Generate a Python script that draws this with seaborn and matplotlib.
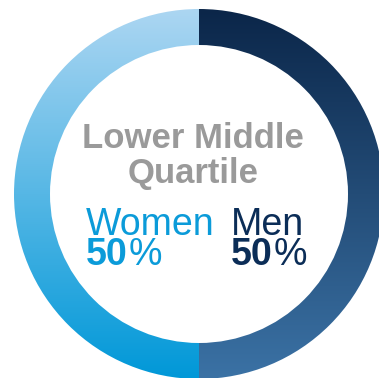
import numpy as np
import matplotlib
matplotlib.use("Agg")
import matplotlib.pyplot as plt
import seaborn as sns
from matplotlib.colors import LinearSegmentedColormap

# data
groups = ["Women", "Men"]
shares = [50, 50]
title_lines = ["Lower Middle", "Quartile"]
grad_top = ["#acd6f2", "#0b2649"]
grad_bottom = ["#0098d8", "#3b72a5"]
text_colors = ["#0b9bd9", "#0b2d57"]

sns.set_theme(style="white")
plt.rcParams["font.family"] = ["Liberation Sans", "DejaVu Sans"]

W, H = 379, 378
fig = plt.figure(figsize=(W / 100, H / 100), dpi=100)
ax = fig.add_axes([0, 0, 1, 1])
ax.set_axis_off()

cx, cy = 199, H - 194
r_out, ring = 185, 36

wedges, _ = ax.pie(shares, startangle=90, counterclock=True, radius=r_out,
                   center=(cx, cy), wedgeprops=dict(width=ring, linewidth=0),
                   colors=["none", "none"])

# vertical gradient inside each wedge
grad = np.linspace(0, 1, 256).reshape(-1, 1)
for w, top, bot in zip(wedges, grad_top, grad_bottom):
    cmap = LinearSegmentedColormap.from_list("g", [bot, top])
    im = ax.imshow(grad, cmap=cmap, origin="lower", aspect="auto",
                   extent=[cx - r_out, cx + r_out, cy - r_out, cy + r_out],
                   interpolation="bilinear")
    im.set_clip_path(w)

ax.set_xlim(0, W)
ax.set_ylim(0, H)
ax.set_aspect("auto")

# centre text
ax.text(193, H - 148, title_lines[0], ha="center", va="baseline",
        fontsize=25, fontweight="bold", color="#9a9a9a")
ax.text(193, H - 183, title_lines[1], ha="center", va="baseline",
        fontsize=25, fontweight="bold", color="#9a9a9a")

fig.canvas.draw()
renderer = fig.canvas.get_renderer()
inv = ax.transData.inverted()
for x0, name, share, col in zip([86, 231], groups, shares, text_colors):
    ax.text(x0, H - 235, name, ha="left", va="baseline", fontsize=27, color=col)
    t = ax.text(x0, H - 265, f"{share}", ha="left", va="baseline",
                fontsize=27, fontweight="bold", color=col)
    fig.canvas.draw()
    bb = t.get_window_extent(renderer)
    xr = inv.transform((bb.x1, bb.y0))[0]
    ax.text(xr + 1, H - 265, "%", ha="left", va="baseline", fontsize=27, color=col)

fig.savefig("out.png", dpi=100)
